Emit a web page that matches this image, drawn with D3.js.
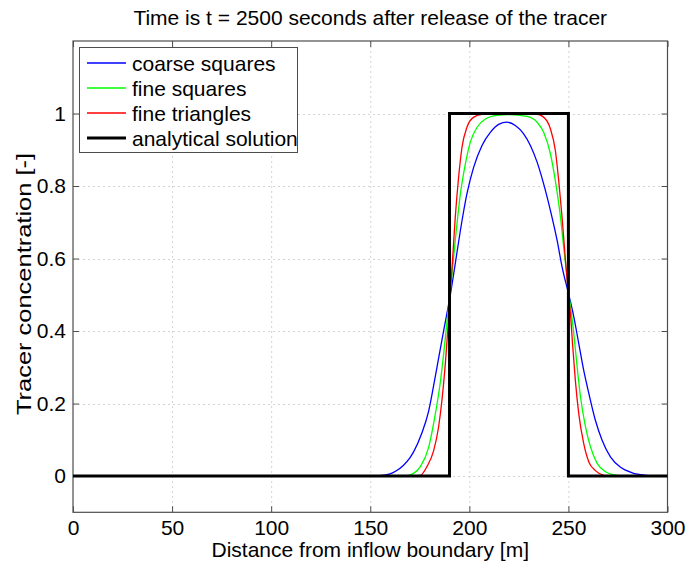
<!DOCTYPE html>
<html>
<head>
<meta charset="utf-8">
<script src="https://cdn.jsdelivr.net/npm/d3@7"></script>
<style>
  body { margin: 0; background: #fff; }
  svg { display: block; font-family: "Liberation Sans", Arial, sans-serif; }
</style>
</head>
<body>
<svg id="chart" width="687" height="562"></svg>
<script>
// Axis ticks
const xTicks = [0, 50, 100, 150, 200, 250, 300];
const yTicks = [0, 0.2, 0.4, 0.6, 0.8, 1];

// Coarse squares
const coarseX = [0, 150, 155, 160, 163, 166.8, 170, 172, 176, 179.5, 182, 184.5, 187, 189.5, 190.4, 192.9, 195.5, 198.8, 202.2, 206.4, 210.6, 214.8, 219, 223.2, 227.4, 230.8, 234.2, 237.5, 240.9, 244.3, 246.8, 250.2, 252.7, 255.2, 257.7, 260.3, 263.6, 267, 271.2, 276.3, 282.2, 288.9, 293, 300];
const coarseY = [0, 0, 0.001, 0.006, 0.014, 0.03, 0.05, 0.068, 0.118, 0.18, 0.25, 0.325, 0.4, 0.472, 0.5, 0.586, 0.678, 0.779, 0.852, 0.912, 0.948, 0.970, 0.976, 0.967, 0.944, 0.912, 0.866, 0.806, 0.733, 0.65, 0.577, 0.5, 0.44, 0.366, 0.292, 0.228, 0.154, 0.099, 0.053, 0.024, 0.009, 0.002, 0, 0];

// Fine squares
const fineSqX = [0, 166, 169.3, 172, 175.3, 179.5, 182.8, 185.4, 187.4, 189, 190.2, 192.9, 195.5, 198, 200.5, 203.9, 208.1, 214, 220, 229.1, 234.2, 237.5, 240.9, 243.4, 246, 247.6, 249.3, 250.2, 251, 252.7, 254.4, 256.1, 258.6, 261.1, 264.5, 268.7, 274.6, 278, 300];
const fineSqY = [0, 0, 0.002, 0.008, 0.026, 0.08, 0.17, 0.26, 0.355, 0.44, 0.5, 0.65, 0.779, 0.861, 0.921, 0.962, 0.985, 0.995, 0.997, 0.992, 0.976, 0.948, 0.889, 0.815, 0.714, 0.632, 0.55, 0.5, 0.47, 0.393, 0.301, 0.218, 0.136, 0.081, 0.035, 0.012, 0.002, 0, 0];

// Fine triangles
const fineTriX = [0, 172, 175.3, 178.6, 182, 184.5, 186.2, 187.9, 189.5, 190.3, 191.3, 192.9, 194.6, 196.3, 198.8, 202.2, 206.6, 220, 234, 238.4, 240.9, 243.4, 245.1, 246.8, 248.5, 250, 251, 252.2, 253.5, 255.2, 257.7, 260.3, 263.6, 267.8, 270, 300];
const fineTriY = [0, 0, 0.002, 0.026, 0.07, 0.136, 0.21, 0.31, 0.43, 0.5, 0.577, 0.714, 0.825, 0.907, 0.962, 0.99, 0.998, 1.0, 0.998, 0.985, 0.958, 0.898, 0.815, 0.714, 0.595, 0.5, 0.448, 0.356, 0.264, 0.173, 0.09, 0.039, 0.015, 0.002, 0, 0];

// Analytical solution (square pulse)
const exactX = [0, 190, 190, 250, 250, 300];
const exactY = [0, 0, 1, 1, 0, 0];

const seriesNames = ["coarse squares", "fine squares", "fine triangles", "analytical solution"];
const seriesColors = ["#0000ff", "#00ff00", "#ff0000", "#000000"];

const svg = d3.select("#chart");
const plotL = 73, plotR = 667.5, plotT = 41, plotB = 512.3;
const fontSize = 21;

const x = d3.scaleLinear().domain([0, 300]).range([plotL, plotR]);
const y = d3.scaleLinear().domain([-0.1, 1.2]).range([plotB, plotT]);

const axisColor = "#4d4d4d";

// Grid
const grid = svg.append("g");
grid.selectAll("line.gx").data(xTicks.filter(t => t > 0 && t < 300)).join("line")
  .attr("x1", d => x(d) + 0.5).attr("x2", d => x(d) + 0.5)
  .attr("y1", plotT).attr("y2", plotB)
  .attr("stroke", "#d4d4d4").attr("stroke-width", 1).attr("stroke-dasharray", "2,3");
grid.selectAll("line.gy").data(yTicks).join("line")
  .attr("y1", d => Math.round(y(d)) + 0.5).attr("y2", d => Math.round(y(d)) + 0.5)
  .attr("x1", plotL).attr("x2", plotR)
  .attr("stroke", "#d4d4d4").attr("stroke-width", 1).attr("stroke-dasharray", "2,3");

// Axes with inward ticks on all four sides
const tickLen = 6;
svg.append("g").attr("transform", `translate(0,${plotB})`)
  .call(d3.axisBottom(x).tickValues(xTicks).tickSizeInner(-tickLen).tickSizeOuter(0).tickPadding(8).tickFormat(d3.format("d")))
  .call(g => g.select(".domain").remove());
svg.append("g").attr("transform", `translate(0,${plotT})`)
  .call(d3.axisTop(x).tickValues(xTicks).tickSizeInner(-tickLen).tickSizeOuter(0).tickFormat(""))
  .call(g => g.select(".domain").remove());
svg.append("g").attr("transform", `translate(${plotL},0)`)
  .call(d3.axisLeft(y).tickValues(yTicks).tickSizeInner(-tickLen).tickSizeOuter(0).tickPadding(7).tickFormat(d => String(+d.toFixed(1))))
  .call(g => g.select(".domain").remove());
svg.append("g").attr("transform", `translate(${plotR},0)`)
  .call(d3.axisRight(y).tickValues(yTicks).tickSizeInner(-tickLen).tickSizeOuter(0).tickFormat(""))
  .call(g => g.select(".domain").remove());

svg.selectAll(".tick line").attr("stroke", axisColor);
svg.selectAll(".tick text").attr("fill", "#000").attr("font-size", fontSize)
  .attr("font-family", "'Liberation Sans', Arial, sans-serif");

// Frame
svg.append("rect").attr("x", plotL).attr("y", plotT)
  .attr("width", plotR - plotL).attr("height", plotB - plotT)
  .attr("fill", "none").attr("stroke", axisColor).attr("stroke-width", 1.2);

// Curves
const smooth = d3.line().x(d => x(d[0])).y(d => y(d[1])).curve(d3.curveMonotoneX);
const straight = d3.line().x(d => x(d[0])).y(d => y(d[1]));
const zip = (a, b) => a.map((v, i) => [v, b[i]]);

const curves = [
  { pts: zip(coarseX, coarseY), gen: smooth, w: 1.3 },
  { pts: zip(fineSqX, fineSqY), gen: smooth, w: 1.3 },
  { pts: zip(fineTriX, fineTriY), gen: smooth, w: 1.3 },
  { pts: zip(exactX, exactY), gen: straight, w: 3 }
];
const plot = svg.append("g");
curves.forEach((c, i) => {
  plot.append("path").attr("d", c.gen(c.pts))
    .attr("fill", "none").attr("stroke", seriesColors[i])
    .attr("stroke-width", c.w).attr("stroke-linejoin", "miter");
});

// Legend
const lg = svg.append("g");
lg.append("rect").attr("x", 79.5).attr("y", 47.5).attr("width", 218).attr("height", 105)
  .attr("fill", "#fff").attr("stroke", axisColor).attr("stroke-width", 1);
seriesNames.forEach((name, i) => {
  const cy = 63 + i * 25;
  lg.append("line").attr("x1", 87).attr("x2", 126).attr("y1", cy).attr("y2", cy)
    .attr("stroke", seriesColors[i]).attr("stroke-width", curves[i].w);
  lg.append("text").attr("x", 132).attr("y", cy + 7.5).attr("font-size", fontSize).text(name);
});

// Titles
svg.append("text").attr("x", (plotL + plotR) / 2).attr("y", 25)
  .attr("text-anchor", "middle").attr("font-size", fontSize)
  .text("Time is t = 2500 seconds after release of the tracer");
svg.append("text").attr("x", (plotL + plotR) / 2).attr("y", 557)
  .attr("text-anchor", "middle").attr("font-size", fontSize)
  .text("Distance from inflow boundary [m]");
svg.append("text").attr("transform", `translate(30.5,284) rotate(-90)`)
  .attr("text-anchor", "middle").attr("font-size", fontSize)
  .attr("textLength", 262).attr("lengthAdjust", "spacingAndGlyphs")
  .text("Tracer concentration [-]");
</script>
</body>
</html>
